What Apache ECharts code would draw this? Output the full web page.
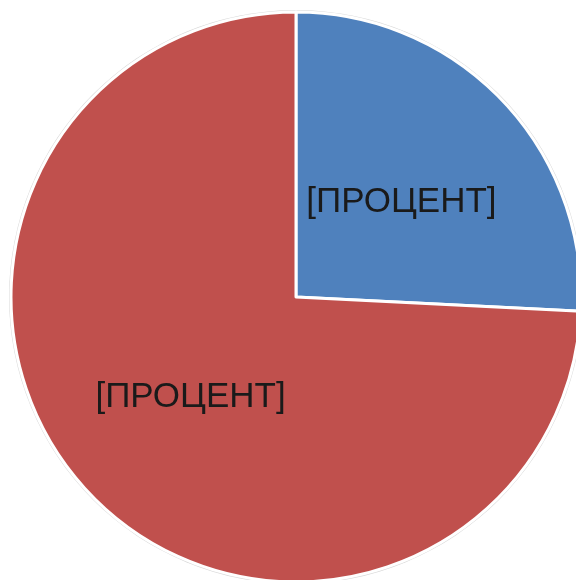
<!DOCTYPE html>
<html>
<head>
<meta charset="utf-8">
<script src="https://cdn.jsdelivr.net/npm/echarts@6/dist/echarts.min.js"></script>
<style>
  html, body { margin: 0; padding: 0; background: #fff; }
  #chart { width: 576px; height: 580px; }
</style>
</head>
<body>
<div id="chart"></div>
<script>
var names = ['A', 'B'];
var values = [25.8, 74.2];
var labels = ['[ПРОЦЕНТ]', '[ПРОЦЕНТ]'];
var colors = ['#4F81BD', '#C0504D'];

var chart = echarts.init(document.getElementById('chart'));

chart.setOption({
  backgroundColor: '#ffffff',
  animation: false,
  series: [{
    // faint grey rim around the pie
    type: 'pie',
    center: [296, 297],
    radius: [0, 287],
    silent: true,
    label: { show: false },
    labelLine: { show: false },
    itemStyle: { color: '#d9d9d9' },
    data: [1]
  }, {
    type: 'pie',
    center: [296, 297],
    radius: [0, 285],
    startAngle: 90,
    clockwise: true,
    avoidLabelOverlap: false,
    itemStyle: {
      borderColor: '#ffffff',
      borderWidth: 3
    },
    label: {
      show: true,
      position: 'inside',
      fontFamily: 'Liberation Sans',
      fontSize: 35,
      color: '#1a1a1a',
      formatter: function (p) { return labels[p.dataIndex]; }
    },
    labelLine: { show: false },
    emphasis: { disabled: true },
    data: names.map(function (n, i) {
      return {
        name: n,
        value: values[i],
        itemStyle: { color: colors[i] },
        label: { offset: i === 0 ? [0, 6] : [0, 0] }
      };
    })
  }]
});
</script>
</body>
</html>
